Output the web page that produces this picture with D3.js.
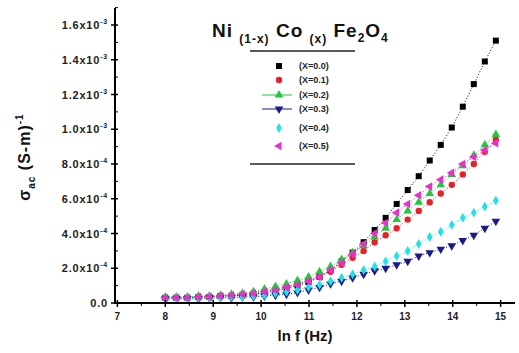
<!DOCTYPE html>
<html>
<head>
<meta charset="utf-8">
<script src="https://cdn.jsdelivr.net/npm/d3@7"></script>
<style>
  body { margin: 0; background: #fff; }
  svg { font-family: "Liberation Sans", Arial, sans-serif; }
</style>
</head>
<body>
<div id="chart"></div>
<script>
// ln f (Hz) sample points
const lnF = [8.0, 8.23, 8.46, 8.69, 8.92, 9.15, 9.38, 9.61, 9.84, 10.07, 10.3, 10.53, 10.76, 10.99, 11.22,
  11.45, 11.68, 11.91, 12.14, 12.37, 12.6, 12.83, 13.06, 13.29, 13.52, 13.75, 13.98, 14.21, 14.44, 14.67, 14.9];

// sigma_ac in units of 1e-3 (S-m)^-1
const sigX00 = [0.03, 0.03, 0.03, 0.035, 0.035, 0.04, 0.04, 0.045, 0.05, 0.06, 0.07, 0.085, 0.10, 0.12, 0.15,
  0.19, 0.24, 0.29, 0.35, 0.42, 0.49, 0.57, 0.65, 0.73, 0.82, 0.91, 1.01, 1.13, 1.26, 1.39, 1.51];
const sigX01 = [0.03, 0.03, 0.03, 0.035, 0.035, 0.04, 0.045, 0.05, 0.06, 0.07, 0.08, 0.095, 0.11, 0.13, 0.15,
  0.18, 0.22, 0.26, 0.30, 0.35, 0.39, 0.43, 0.48, 0.53, 0.58, 0.63, 0.68, 0.74, 0.80, 0.87, 0.94];
const sigX02 = [0.035, 0.035, 0.035, 0.04, 0.04, 0.045, 0.05, 0.055, 0.065, 0.08, 0.095, 0.11, 0.13, 0.15, 0.18,
  0.21, 0.25, 0.29, 0.33, 0.38, 0.43, 0.48, 0.53, 0.58, 0.63, 0.68, 0.74, 0.79, 0.85, 0.91, 0.97];
const sigX03 = [0.025, 0.025, 0.025, 0.025, 0.03, 0.03, 0.03, 0.035, 0.035, 0.04, 0.045, 0.05, 0.06, 0.075, 0.09,
  0.11, 0.125, 0.145, 0.165, 0.185, 0.20, 0.22, 0.24, 0.27, 0.29, 0.31, 0.33, 0.36, 0.39, 0.43, 0.47];
const sigX04 = [0.025, 0.025, 0.025, 0.03, 0.03, 0.03, 0.035, 0.035, 0.04, 0.045, 0.055, 0.065, 0.075, 0.09, 0.105,
  0.125, 0.145, 0.165, 0.19, 0.21, 0.24, 0.27, 0.30, 0.34, 0.38, 0.41, 0.45, 0.49, 0.52, 0.555, 0.59];
const sigX05 = [0.03, 0.03, 0.03, 0.035, 0.035, 0.04, 0.045, 0.05, 0.055, 0.065, 0.075, 0.09, 0.105, 0.125, 0.15,
  0.19, 0.23, 0.28, 0.34, 0.40, 0.46, 0.52, 0.57, 0.62, 0.67, 0.71, 0.75, 0.80, 0.84, 0.88, 0.92];

const seriesNames = ["(X=0.0)", "(X=0.1)", "(X=0.2)", "(X=0.3)", "(X=0.4)", "(X=0.5)"];
const seriesColors = ["#000000", "#e8202a", "#22c83c", "#1a1a8c", "#20e0e8", "#e830c8"];
const seriesValues = [sigX00, sigX01, sigX02, sigX03, sigX04, sigX05];

const xTicks = [7, 8, 9, 10, 11, 12, 13, 14, 15];
const yTicks = [0, 0.2, 0.4, 0.6, 0.8, 1.0, 1.2, 1.4, 1.6];
const yTickMant = ["0.0", "2.0", "4.0", "6.0", "8.0", "1.0", "1.2", "1.4", "1.6"];
const yTickExp = ["", "-4", "-4", "-4", "-4", "-3", "-3", "-3", "-3"];

const W = 519, H = 353;
const svg = d3.select("#chart").append("svg").attr("width", W).attr("height", H);

const x = d3.scaleLinear().domain([6.95, 15.3]).range([115, 515]);
const y = d3.scaleLinear().domain([0, 1.6]).range([303, 25]);

// Series lines (dotted) + markers
const symbols = [d3.symbolSquare, d3.symbolCircle, d3.symbolTriangle, d3.symbolTriangle, d3.symbolDiamond, d3.symbolTriangle];
const rotations = [0, 0, 0, 180, 0, -90];
const sizes = [36, 32, 32, 32, 28, 32];

const line = d3.line().x(d => x(d[0])).y(d => y(d[1]));

seriesValues.forEach((vals, i) => {
  const pts = lnF.map((f, j) => [f, vals[j]]);
  svg.append("path")
    .attr("d", line(pts))
    .attr("fill", "none")
    .attr("stroke", seriesColors[i])
    .attr("stroke-width", 1)
    .attr("stroke-dasharray", "1,2");
  svg.append("g").selectAll("path")
    .data(pts)
    .join("path")
    .attr("d", d3.symbol().type(symbols[i]).size(sizes[i]))
    .attr("transform", d => `translate(${x(d[0])},${y(d[1])}) rotate(${rotations[i]})`)
    .attr("fill", seriesColors[i]);
});

// Axes
const xAxis = svg.append("g").attr("transform", "translate(0,303)");
xAxis.append("line").attr("x1", 115).attr("x2", 515).attr("stroke", "#000").attr("stroke-width", 2);
xAxis.selectAll(".maj").data(xTicks).join("line")
  .attr("x1", d => x(d)).attr("x2", d => x(d)).attr("y1", -3).attr("y2", 4)
  .attr("stroke", "#000").attr("stroke-width", 1.5);
xAxis.selectAll(".min").data(xTicks.slice(0, -1).map(d => d + 0.5)).join("line")
  .attr("x1", d => x(d)).attr("x2", d => x(d)).attr("y1", 0).attr("y2", 3)
  .attr("stroke", "#000").attr("stroke-width", 1);
xAxis.selectAll("text").data(xTicks).join("text")
  .attr("x", d => x(d)).attr("y", 17)
  .attr("text-anchor", "middle")
  .attr("font-size", 10).attr("font-weight", "bold").attr("fill", "#222")
  .text(d => d);

const yAxis = svg.append("g");
yAxis.append("line").attr("x1", 115).attr("x2", 115).attr("y1", 8).attr("y2", 304).attr("stroke", "#000").attr("stroke-width", 2);
yAxis.selectAll(".maj").data(yTicks).join("line")
  .attr("x1", 111).attr("x2", 118).attr("y1", d => y(d)).attr("y2", d => y(d))
  .attr("stroke", "#000").attr("stroke-width", 1.5);
yAxis.selectAll(".min").data(yTicks.map(d => d + 0.1)).join("line")
  .attr("x1", 115).attr("x2", 118).attr("y1", d => y(d)).attr("y2", d => y(d))
  .attr("stroke", "#000").attr("stroke-width", 1);
const yl = yAxis.selectAll("text").data(yTicks).join("text")
  .attr("x", 108).attr("y", d => y(d) + 4)
  .attr("text-anchor", "end")
  .attr("font-size", 11).attr("font-weight", "bold").attr("fill", "#222")
  .attr("letter-spacing", 0.8);
yl.each(function(d, i) {
  const t = d3.select(this);
  if (!yTickExp[i]) { t.text(yTickMant[i]); return; }
  t.append("tspan").text(yTickMant[i] + "x10");
  t.append("tspan").attr("dy", -5).attr("font-size", 7).text(yTickExp[i]);
});

// Axis titles
svg.append("text")
  .attr("x", 305).attr("y", 341)
  .attr("text-anchor", "middle")
  .attr("font-size", 15).attr("font-weight", "bold").attr("fill", "#111")
  .text("ln f (Hz)");

const yt = svg.append("text")
  .attr("transform", "translate(30,157) rotate(-90)")
  .attr("text-anchor", "middle")
  .attr("font-size", 16).attr("font-weight", "bold").attr("fill", "#111")
  .attr("letter-spacing", 1);
yt.append("tspan").text("σ");
yt.append("tspan").attr("dy", 5).attr("font-size", 10).text("ac");
yt.append("tspan").attr("dy", -5).text(" (S-m)");
yt.append("tspan").attr("dy", -7).attr("font-size", 10).text("-1");

// Title
const title = svg.append("text")
  .attr("x", 212).attr("y", 37)
  .attr("font-size", 19).attr("font-weight", "bold").attr("fill", "#111")
  .attr("letter-spacing", 1);
title.append("tspan").text("Ni ");
title.append("tspan").attr("dy", 6).attr("font-size", 12).text("(1-x)");
title.append("tspan").attr("dy", -6).text(" Co ");
title.append("tspan").attr("dy", 6).attr("font-size", 12).text("(x)");
title.append("tspan").attr("dy", -6).text(" Fe");
title.append("tspan").attr("dy", 5).attr("font-size", 12).text("2");
title.append("tspan").attr("dy", -5).text("O");
title.append("tspan").attr("dy", 5).attr("font-size", 12).text("4");

// Legend
const legRows = [66, 80, 95, 109, 128, 146];
const leg = svg.append("g");
leg.append("line").attr("x1", 250).attr("x2", 355).attr("y1", 51).attr("y2", 51).attr("stroke", "#222").attr("stroke-width", 1.5);
leg.append("line").attr("x1", 250).attr("x2", 355).attr("y1", 164).attr("y2", 164).attr("stroke", "#222").attr("stroke-width", 1.5);
seriesNames.forEach((name, i) => {
  const ry = legRows[i];
  if (i === 2 || i === 3) {
    leg.append("line").attr("x1", 262).attr("x2", 292).attr("y1", ry).attr("y2", ry)
      .attr("stroke", seriesColors[i]).attr("stroke-width", 1);
  }
  leg.append("path")
    .attr("d", d3.symbol().type(symbols[i]).size(sizes[i])())
    .attr("transform", `translate(279,${ry}) rotate(${rotations[i]})`)
    .attr("fill", seriesColors[i]);
  leg.append("text")
    .attr("x", 299).attr("y", ry + 3)
    .attr("font-size", 9).attr("font-weight", "bold").attr("fill", "#222")
    .text(name);
});
</script>
</body>
</html>
